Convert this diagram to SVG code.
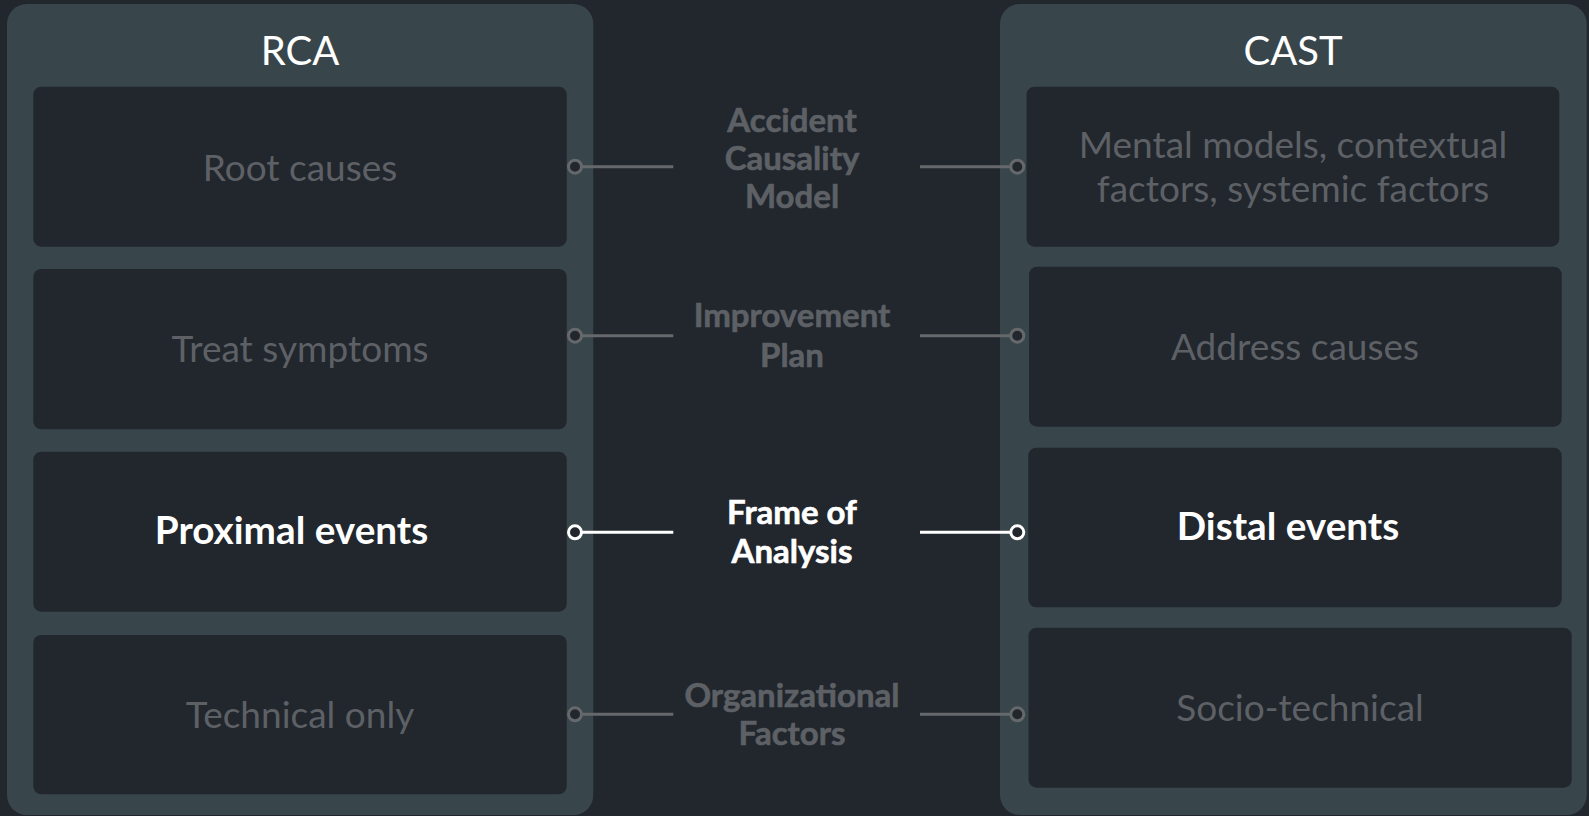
<svg xmlns="http://www.w3.org/2000/svg" width="1589" height="816" viewBox="0 0 1589 816">
<style>
.bg{fill:#22262d}
.panel{fill:#38464b}
.box{fill:#22262d}
.title{font-family:Lato,"Liberation Sans",sans-serif;font-size:40px;fill:#ffffff;text-anchor:middle}
.t{font-family:Lato,"Liberation Sans",sans-serif;font-size:37px;fill:#5d6166;text-anchor:middle}
.tb{font-family:Lato,"Liberation Sans",sans-serif;font-size:38.7px;font-weight:bold;fill:#ffffff;text-anchor:middle}
.lab{font-family:Lato,"Liberation Sans",sans-serif;font-size:33px;font-weight:bold;fill:#5d6166;stroke:#5d6166;stroke-width:0.6;text-anchor:middle}
.labw{font-family:Lato,"Liberation Sans",sans-serif;font-size:33px;font-weight:bold;fill:#ffffff;stroke:#ffffff;stroke-width:0.6;text-anchor:middle}
.ln{stroke:#66696c;stroke-width:3;fill:none}
.lnw{stroke:#ffffff;stroke-width:3;fill:none}
.dot{stroke:#66696c;stroke-width:3;fill:#22262d}
.dotw{stroke:#ffffff;stroke-width:3;fill:#22262d}
</style>
<rect class="bg" x="0" y="0" width="1589" height="816"/>
<g id="rca">
<rect class="panel" x="7" y="4" width="586.3" height="811" rx="20"/>
<text class="title" x="300" y="65">RCA</text>
</g>
<g id="cast">
<rect class="panel" x="1000" y="4" width="586.7" height="811" rx="20"/>
<text class="title" x="1293" y="65">CAST</text>
</g>
<g id="rca-root">
<rect class="box" x="33.3" y="86.7" width="533.4" height="160" rx="8"/>
<text class="t" x="300" y="181">Root causes</text>
</g>
<g id="rca-treat">
<rect class="box" x="33.3" y="269" width="533.4" height="160.3" rx="8"/>
<text class="t" x="300" y="362">Treat symptoms</text>
</g>
<g id="rca-proximal">
<rect class="box" x="33.3" y="451.7" width="533.4" height="160" rx="8"/>
<text class="tb" x="291.5" y="544">Proximal events</text>
</g>
<g id="rca-technical">
<rect class="box" x="33.3" y="635" width="533.4" height="159.3" rx="8"/>
<text class="t" x="300" y="728">Technical only</text>
</g>
<g id="cast-mental">
<rect class="box" x="1026.5" y="86.7" width="532.8" height="160" rx="8"/>
<text class="t" x="1293" y="158.3">Mental models, contextual</text>
<text class="t" x="1293" y="201.7">factors, systemic factors</text>
</g>
<g id="cast-address">
<rect class="box" x="1029" y="266.7" width="532.7" height="160" rx="8"/>
<text class="t" x="1295" y="360">Address causes</text>
</g>
<g id="cast-distal">
<rect class="box" x="1028.3" y="447.7" width="533.4" height="159.6" rx="8"/>
<text class="tb" x="1288" y="540">Distal events</text>
</g>
<g id="cast-socio">
<rect class="box" x="1028.5" y="627.7" width="543.2" height="160" rx="8"/>
<text class="t" x="1300" y="721">Socio-technical</text>
</g>
<g id="connectors">
<line class="ln" x1="575" y1="166.7" x2="673.3" y2="166.7"/>
<line class="ln" x1="920" y1="166.7" x2="1017.3" y2="166.7"/>
<circle class="dot" cx="575" cy="166.7" r="6.5"/>
<circle class="dot" cx="1017.3" cy="166.7" r="6.5"/>
<line class="ln" x1="575" y1="335.7" x2="673.3" y2="335.7"/>
<line class="ln" x1="920" y1="335.7" x2="1017.3" y2="335.7"/>
<circle class="dot" cx="575" cy="335.7" r="6.5"/>
<circle class="dot" cx="1017.3" cy="335.7" r="6.5"/>
<line class="lnw" x1="575" y1="532.3" x2="673.3" y2="532.3"/>
<line class="lnw" x1="920" y1="532.3" x2="1017.3" y2="532.3"/>
<circle class="dotw" cx="575" cy="532.3" r="6.5"/>
<circle class="dotw" cx="1017.3" cy="532.3" r="6.5"/>
<line class="ln" x1="575" y1="714.3" x2="673.3" y2="714.3"/>
<line class="ln" x1="920" y1="714.3" x2="1017.3" y2="714.3"/>
<circle class="dot" cx="575" cy="714.3" r="6.5"/>
<circle class="dot" cx="1017.3" cy="714.3" r="6.5"/>
</g>
<g id="label-causality">
<text class="lab" x="792" y="131.7">Accident</text>
<text class="lab" x="792" y="170">Causality</text>
<text class="lab" x="792" y="208.3">Model</text>
</g>
<g id="label-improvement">
<text class="lab" x="792" y="327.3">Improvement</text>
<text class="lab" x="792" y="366.7">Plan</text>
</g>
<g id="label-frame">
<text class="labw" x="792" y="524">Frame of</text>
<text class="labw" x="792" y="562.7">Analysis</text>
</g>
<g id="label-organizational">
<text class="lab" x="792" y="706.7">Organizational</text>
<text class="lab" x="792" y="745">Factors</text>
</g>
</svg>
